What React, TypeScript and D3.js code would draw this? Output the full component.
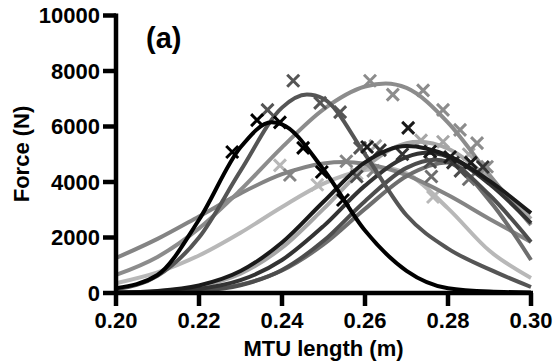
import React from "react";
import * as d3 from "d3";

// fitted curves, [length (m), force (N)]
const fitA = [[0.2, 170], [0.21, 650], [0.22, 2640], [0.23, 5250], [0.2375, 6150], [0.24, 6080], [0.25, 4450], [0.26, 2250], [0.27, 800], [0.28, 170], [0.29, 50], [0.3, 20]];
const fitB = [[0.2, 130], [0.21, 620], [0.22, 2000], [0.23, 4400], [0.24, 6680], [0.246, 7150], [0.25, 7000], [0.26, 5000], [0.27, 2800], [0.28, 1600], [0.29, 850], [0.3, 216]];
const fitC = [[0.2, 650], [0.21, 1300], [0.22, 2330], [0.23, 3710], [0.24, 5250], [0.25, 6620], [0.26, 7440], [0.265, 7550], [0.27, 7390], [0.28, 6140], [0.29, 4250], [0.3, 2450]];
const fitD = [[0.2, 1260], [0.21, 1950], [0.22, 2760], [0.23, 3590], [0.24, 4280], [0.25, 4670], [0.255, 4720], [0.26, 4660], [0.27, 4250], [0.28, 3530], [0.29, 2670], [0.3, 1840]];
const fitE = [[0.2, 350], [0.21, 740], [0.22, 1350], [0.23, 2170], [0.24, 3100], [0.25, 3940], [0.26, 4430], [0.265, 4500], [0.27, 4310], [0.28, 3050], [0.29, 1520], [0.3, 540]];
const fitF = [[0.2, 16], [0.21, 73], [0.22, 270], [0.23, 790], [0.24, 1820], [0.25, 3290], [0.26, 4710], [0.27, 5300], [0.28, 4950], [0.29, 4040], [0.3, 2880]];
const fitG = [[0.2, 7], [0.21, 34], [0.22, 142], [0.23, 460], [0.24, 1190], [0.25, 2410], [0.26, 3870], [0.27, 4900], [0.275, 5050], [0.28, 4910], [0.29, 3930], [0.3, 2520]];
const fitH = [[0.2, 3], [0.21, 15], [0.22, 74], [0.23, 280], [0.24, 830], [0.25, 1880], [0.26, 3310], [0.27, 4510], [0.277, 4800], [0.28, 4720], [0.29, 3530], [0.3, 1840]];
const fitI = [[0.2, 4], [0.21, 22], [0.22, 91], [0.23, 300], [0.24, 810], [0.25, 1750], [0.26, 3030], [0.27, 4210], [0.28, 4700], [0.29, 3330], [0.3, 1190]];
const fitJ = [[0.2, 15], [0.21, 66], [0.22, 240], [0.23, 700], [0.24, 1630], [0.25, 3030], [0.26, 4520], [0.27, 5400], [0.273, 5450], [0.28, 5200], [0.29, 4110], [0.3, 2670]];

// measured points (x markers)
const ptsA = [[0.228, 5080], [0.234, 6230], [0.2395, 6150], [0.2451, 5230], [0.2496, 4360], [0.2547, 3350]];
const ptsB = [[0.2365, 6600], [0.2427, 7650], [0.2492, 6850], [0.254, 6520], [0.2588, 5230]];
const ptsC = [[0.2612, 7650], [0.2667, 7150], [0.274, 7300], [0.2788, 6600], [0.2829, 5880], [0.287, 5400], [0.2894, 4550]];
const ptsD = [[0.2419, 4250], [0.2555, 4750], [0.262, 4400]];
const ptsE = [[0.2395, 4600], [0.2485, 3900], [0.258, 4300], [0.2764, 3460]];
const ptsF = [[0.2704, 5950], [0.2605, 5260], [0.2757, 5100], [0.2805, 4900], [0.2855, 4700]];
const ptsG = [[0.2636, 5150], [0.269, 5000], [0.2812, 4700], [0.2884, 4540]];
const ptsH = [[0.258, 4200], [0.2757, 4720], [0.283, 4400]];
const ptsI = [[0.276, 4200], [0.285, 4100]];
const ptsJ = [[0.2625, 5300], [0.2735, 5500], [0.2788, 5450], [0.285, 5000]];

const yTicks = [0, 2000, 4000, 6000, 8000, 10000];
const xTicks = [0.2, 0.22, 0.24, 0.26, 0.28, 0.3];

const series = [
  { fit: fitE, pts: ptsE, color: "#b8b8b8" },
  { fit: fitJ, pts: ptsJ, color: "#a6a6a6" },
  { fit: fitD, pts: ptsD, color: "#848484" },
  { fit: fitC, pts: ptsC, color: "#8c8c8c" },
  { fit: fitI, pts: ptsI, color: "#6e6e6e" },
  { fit: fitH, pts: ptsH, color: "#4d4d4d" },
  { fit: fitG, pts: ptsG, color: "#333333" },
  { fit: fitB, pts: ptsB, color: "#555555" },
  { fit: fitF, pts: ptsF, color: "#1a1a1a" },
  { fit: fitA, pts: ptsA, color: "#000000" },
];

export default function App() {
  const x = d3.scaleLinear().domain([0.2, 0.3]).range([116, 531]);
  const y = d3.scaleLinear().domain([0, 10000]).range([293, 15.5]);
  const line = d3
    .line<number[]>()
    .x((d) => x(d[0]))
    .y((d) => y(d[1]))
    .curve(d3.curveMonotoneX);
  const font = "'Liberation Sans', Arial, sans-serif";
  const s = 6;

  return (
    <svg width={555} height={364} style={{ position: "absolute", left: 0, top: 0 }} fontFamily={font} fontWeight="bold">
      {series.map((sr, i) => (
        <g key={i}>
          <path d={line(sr.fit) || ""} fill="none" stroke={sr.color} strokeWidth={4} />
          {sr.pts.map((p, j) => (
            <path
              key={j}
              d={`M${x(p[0]) - s},${y(p[1]) - s}L${x(p[0]) + s},${y(p[1]) + s}M${x(p[0]) - s},${y(p[1]) + s}L${x(p[0]) + s},${y(p[1]) - s}`}
              stroke={sr.color}
              strokeWidth={3}
              fill="none"
            />
          ))}
        </g>
      ))}

      {/* axes */}
      <line x1={116} x2={116} y1={13.5} y2={295} stroke="#000" strokeWidth={4.5} />
      <line x1={114} x2={533} y1={293} y2={293} stroke="#000" strokeWidth={4.5} />
      {yTicks.map((t) => (
        <g key={t}>
          <line x1={103} x2={116} y1={y(t)} y2={y(t)} stroke="#000" strokeWidth={4.5} />
          <text x={100} y={y(t)} dy="0.36em" textAnchor="end" fontSize={22}>
            {t}
          </text>
        </g>
      ))}
      {xTicks.map((t) => (
        <g key={t}>
          <line x1={x(t)} x2={x(t)} y1={293} y2={306} stroke="#000" strokeWidth={4.5} />
          <text x={x(t)} y={328} textAnchor="middle" fontSize={22}>
            {t.toFixed(2)}
          </text>
        </g>
      ))}
      <text x={323.5} y={356} textAnchor="middle" fontSize={22}>
        MTU length (m)
      </text>
      <text transform="translate(29,154) rotate(-90)" textAnchor="middle" fontSize={22}>
        Force (N)
      </text>
      <text x={146} y={48} fontSize={29}>
        (a)
      </text>
    </svg>
  );
}
